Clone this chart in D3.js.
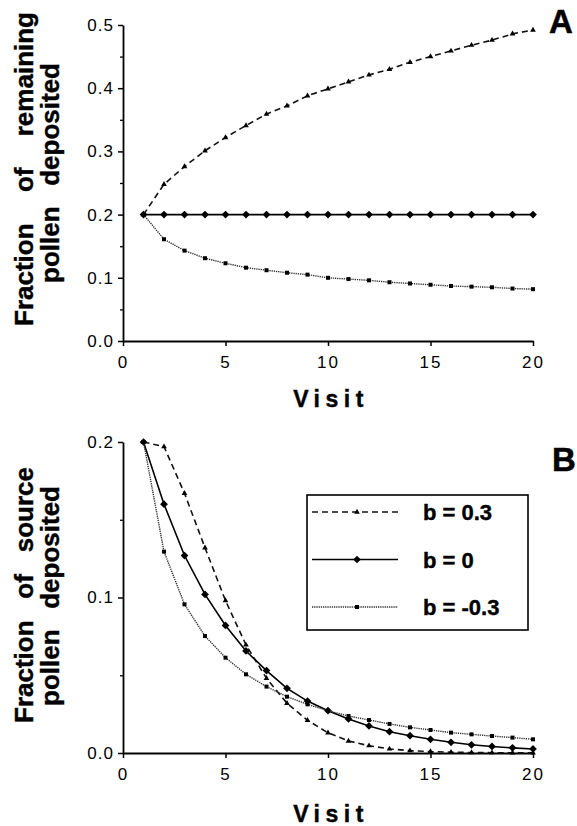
<!DOCTYPE html>
<html>
<head>
<meta charset="utf-8">
<script src="https://cdn.jsdelivr.net/npm/d3@7"></script>
<style>
  html, body { margin: 0; padding: 0; background: #fff; }
  svg { display: block; font-family: "Liberation Sans", Arial, sans-serif; }
</style>
</head>
<body>
<svg id="chart" width="577" height="826"></svg>
<script>
"use strict";

// visits (x categories)
const visits = [1, 2, 3, 4, 5, 6, 7, 8, 9, 10, 11, 12, 13, 14, 15, 16, 17, 18, 19, 20];

// panel A: fraction of remaining pollen deposited
const remainingPos = [0.200, 0.248, 0.276, 0.301, 0.322, 0.341, 0.359, 0.372, 0.388, 0.399,
    0.410, 0.421, 0.430, 0.441, 0.450, 0.459, 0.468, 0.476, 0.486, 0.492];
const remainingZero = [0.2, 0.2, 0.2, 0.2, 0.2, 0.2, 0.2, 0.2, 0.2, 0.2,
    0.2, 0.2, 0.2, 0.2, 0.2, 0.2, 0.2, 0.2, 0.2, 0.2];
const remainingNeg = [0.200, 0.161, 0.143, 0.131, 0.123, 0.116, 0.112, 0.108, 0.105, 0.100,
    0.098, 0.096, 0.093, 0.091, 0.089, 0.087, 0.086, 0.085, 0.083, 0.082];

// panel B: fraction of source pollen deposited
const sourcePos = [0.200, 0.197, 0.167, 0.132, 0.098, 0.0695, 0.048, 0.032, 0.021, 0.013,
    0.0077, 0.0047, 0.0026, 0.0015, 0.0009, 0.0005, 0.0003, 0.0002, 0.0001, 0.0001];
const sourceZero = [0.200, 0.160, 0.127, 0.102, 0.082, 0.0656, 0.053, 0.0416, 0.0334, 0.0272,
    0.0219, 0.0174, 0.0137, 0.0111, 0.0088, 0.0069, 0.0053, 0.0042, 0.0033, 0.0026];
const sourceNeg = [0.200, 0.1295, 0.0956, 0.0752, 0.0613, 0.0506, 0.0427, 0.0362, 0.0313, 0.0272,
    0.0238, 0.0212, 0.0187, 0.0165, 0.0148, 0.0131, 0.0120, 0.0109, 0.0099, 0.0088];

const seriesNames = ["b = 0.3", "b = 0", "b = -0.3"];
const xTicks = [0, 5, 10, 15, 20];
const yTicksA = [0, 0.1, 0.2, 0.3, 0.4, 0.5];
const yMinorA = [0.05, 0.15, 0.25, 0.35, 0.45];
const yTicksB = [0, 0.1, 0.2];
const yMinorB = [0.05, 0.15];

// line / marker style per series
const styles = [
    { dash: "6,4", width: 1.6, color: "#111", symbol: d3.symbolTriangle, size: 14, rot: 0 },
    { dash: null, width: 1.6, color: "#000", symbol: d3.symbolSquare, size: 30, rot: 45 },
    { dash: "1.3,0.9", width: 1.4, color: "#333", symbol: d3.symbolSquare, size: 16, rot: 0 }
];

const svg = d3.select("#chart");
const x = d3.scaleLinear().domain([0, 20]).range([123, 533]);

function drawPanel (cfg) {
    const y = d3.scaleLinear().domain(cfg.yDomain).range(cfg.yRange);
    const g = svg.append("g");

    // minor y ticks
    g.append("g")
        .attr("transform", `translate(${x(0)},0)`)
        .call(d3.axisLeft(y).tickValues(cfg.yMinor).tickSize(3).tickFormat(""))
        .call(a => a.select(".domain").remove())
        .call(a => a.selectAll("line").attr("stroke-width", 1.3));

    const yAxis = g.append("g")
        .attr("transform", `translate(${x(0)},0)`)
        .call(d3.axisLeft(y).tickValues(cfg.yTicks).tickSize(5).tickSizeOuter(0)
            .tickPadding(4).tickFormat(d3.format(".1f")));
    yAxis.select(".domain").attr("stroke-width", 1.8);
    yAxis.selectAll("line").attr("stroke-width", 1.5);
    yAxis.selectAll("text").attr("font-size", 17).attr("letter-spacing", 1)
        .attr("font-family", "Liberation Sans, Arial, sans-serif").attr("fill", "#000");

    const xAxis = g.append("g")
        .attr("transform", `translate(0,${y(0)})`)
        .call(d3.axisBottom(x).tickValues(xTicks).tickSize(5).tickSizeOuter(0).tickPadding(10));
    xAxis.select(".domain").attr("stroke-width", 2.2);
    xAxis.selectAll("line").attr("stroke-width", 1.5);
    xAxis.selectAll("text").attr("font-size", 17).attr("letter-spacing", 2)
        .attr("font-family", "Liberation Sans, Arial, sans-serif").attr("fill", "#000");

    const line = d3.line().x((d, i) => x(visits[i])).y(d => y(d));

    cfg.series.forEach((vals, k) => {
        const st = styles[k];
        g.append("path")
            .datum(vals)
            .attr("d", line)
            .attr("fill", "none")
            .attr("stroke", st.color)
            .attr("stroke-width", st.width)
            .attr("stroke-dasharray", st.dash);
        g.selectAll(null)
            .data(vals)
            .enter().append("path")
            .attr("transform", (d, i) => `translate(${x(visits[i])},${y(d)}) rotate(${st.rot})`)
            .attr("d", d3.symbol().type(st.symbol).size(st.size))
            .attr("fill", "#000");
    });

    // x title
    g.append("text")
        .attr("x", (x(0) + x(20)) / 2 + 3)
        .attr("y", cfg.xTitleY)
        .attr("text-anchor", "middle")
        .attr("font-size", 23)
        .attr("font-weight", "bold")
        .attr("stroke", "#000")
        .attr("stroke-width", 0.4)
        .attr("letter-spacing", 5.5)
        .text("Visit");

    // justified rotated y title lines
    cfg.yTitle.forEach(t => justifiedVertical(t.words, t.baseX, t.from, t.to));

    // panel letter
    svg.append("text")
        .attr("x", cfg.letterX)
        .attr("y", cfg.letterY)
        .attr("font-size", 33)
        .attr("font-weight", "bold")
        .attr("stroke", "#000")
        .attr("stroke-width", 0.5)
        .text(cfg.letter);

    return y;
}

// words spread between screen y "from" (bottom) and "to" (top), text rotated -90
function justifiedVertical (words, baseX, from, to) {
    const g = svg.append("g")
        .attr("transform", `translate(${baseX},${from}) rotate(-90)`);
    const nodes = words.map(w => g.append("text")
        .attr("font-size", 26)
        .attr("font-weight", "bold")
        .attr("stroke", "#000")
        .attr("stroke-width", 0.4)
        .text(w));
    const widths = nodes.map(n => n.node().getComputedTextLength());
    const total = from - to;
    const gap = words.length > 1 ? (total - d3.sum(widths)) / (words.length - 1) : 0;
    let pos = 0;
    nodes.forEach((n, i) => {
        n.attr("x", pos);
        pos += widths[i] + gap;
    });
}

drawPanel({
    yDomain: [0, 0.5], yRange: [341, 25],
    yTicks: yTicksA, yMinor: yMinorA,
    series: [remainingPos, remainingZero, remainingNeg],
    xTitleY: 407,
    yTitle: [
        { words: ["Fraction", "of", "remaining"], baseX: 33, from: 326, to: 12 },
        { words: ["pollen", "deposited"], baseX: 59, from: 283, to: 63 }
    ],
    letter: "A", letterX: 549, letterY: 33
});

drawPanel({
    yDomain: [0, 0.2], yRange: [753, 442],
    yTicks: yTicksB, yMinor: yMinorB,
    series: [sourcePos, sourceZero, sourceNeg],
    xTitleY: 822,
    yTitle: [
        { words: ["Fraction", "of", "source"], baseX: 33, from: 723, to: 467 },
        { words: ["pollen", "deposited"], baseX: 59, from: 706, to: 486 }
    ],
    letter: "B", letterX: 552, letterY: 471
});

// legend (panel B)
const legend = svg.append("g");
legend.append("rect")
    .attr("x", 307).attr("y", 495)
    .attr("width", 221).attr("height", 135)
    .attr("fill", "#fff")
    .attr("stroke", "#000")
    .attr("stroke-width", 1.6);

const legendY = d3.scalePoint().domain(seriesNames).range([512, 607]);
seriesNames.forEach((name, k) => {
    const st = styles[k];
    const ly = legendY(name);
    legend.append("line")
        .attr("x1", 312).attr("x2", 398)
        .attr("y1", ly).attr("y2", ly)
        .attr("stroke", st.color)
        .attr("stroke-width", st.width)
        .attr("stroke-dasharray", st.dash);
    legend.append("path")
        .attr("transform", `translate(357,${ly}) rotate(${st.rot})`)
        .attr("d", d3.symbol().type(st.symbol).size(st.size))
        .attr("fill", "#000");
    legend.append("text")
        .attr("x", 423)
        .attr("y", ly + 8)
        .attr("font-size", 22)
        .attr("font-weight", "bold")
        .attr("stroke", "#000")
        .attr("stroke-width", 0.4)
        .text(name);
});
</script>
</body>
</html>
